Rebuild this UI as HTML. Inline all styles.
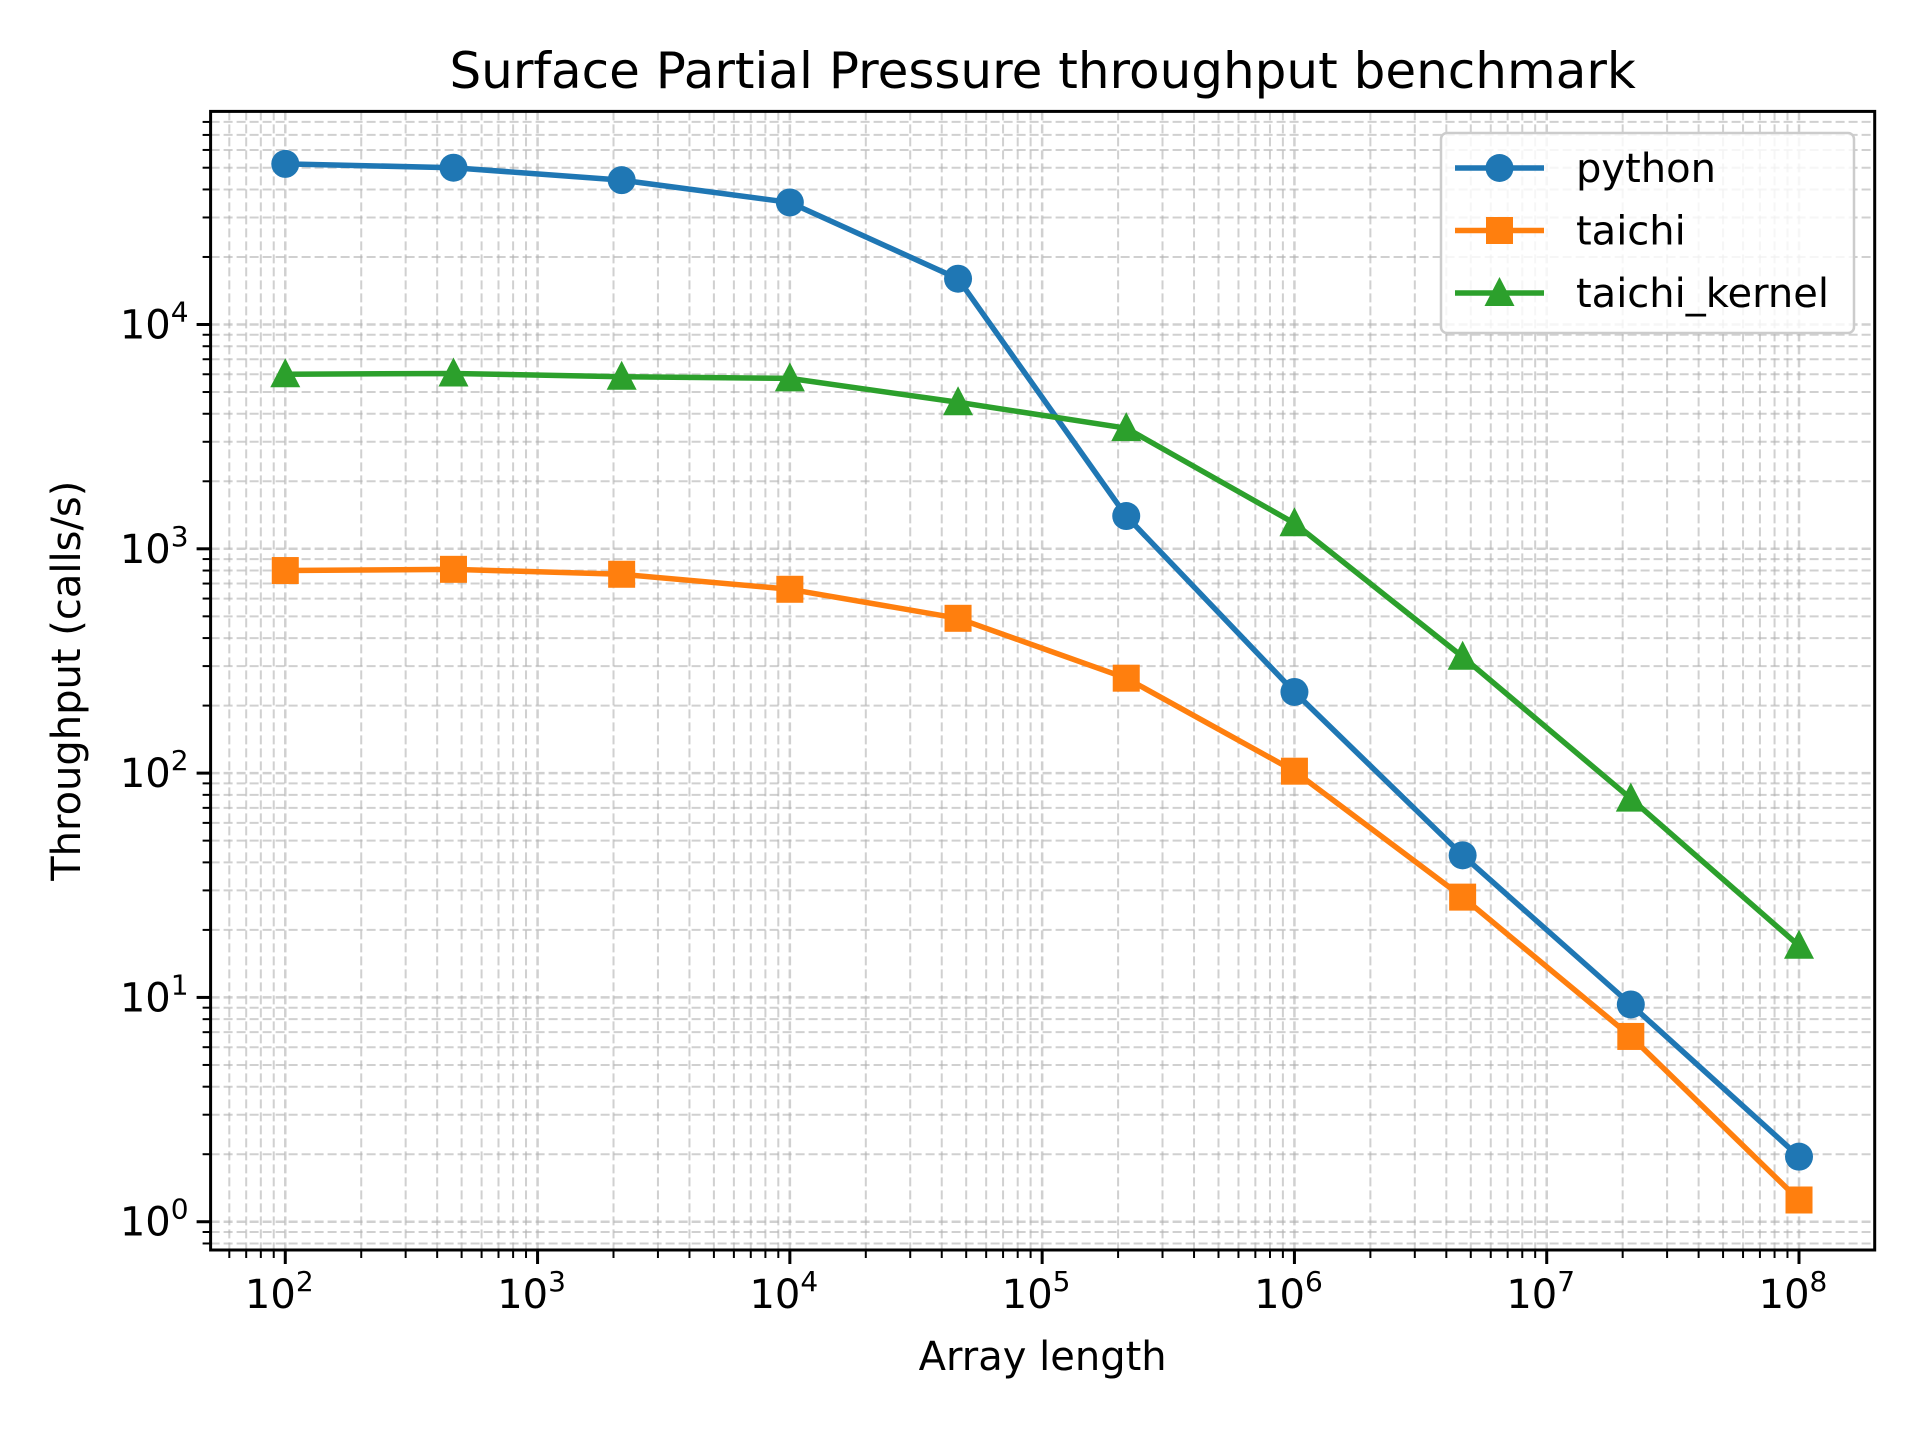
<!DOCTYPE html>
<html><head><meta charset="utf-8"><style>
body{margin:0;background:#fff}
svg text{font-family:"DejaVu Sans","Liberation Sans",sans-serif;fill:#000}
</style></head><body>
<svg id="chart" width="1920" height="1440" xmlns="http://www.w3.org/2000/svg">
<rect width="1920" height="1440" fill="#fff"/>
<g id="grid"></g><g id="series"></g><g id="axes"></g>
</svg>
<script>
const sizesExp = [2, 2.6667, 3.3333, 4, 4.6667, 5.3333, 6, 6.6667, 7.3333, 8];
const pythonVals = [52000, 50000, 44000, 35000, 16000, 1400, 230, 43, 9.3, 1.95];
const taichiVals = [800, 810, 770, 660, 490, 265, 102, 28, 6.7, 1.25];
const kernelVals = [6000, 6050, 5850, 5750, 4500, 3450, 1300, 330, 77, 17];
const xTickExps = [2,3,4,5,6,7,8];
const yTickExps = [0,1,2,3,4];

const L=210.6,R=1874.7,T=111.4,B=1250;
const xMin=1.704,xMax=8.30,yMin=-0.126,yMax=4.95;
const xs=e=>L+(e-xMin)/(xMax-xMin)*(R-L);
const ys=v=>B-(Math.log10(v)-yMin)/(yMax-yMin)*(B-T);
const NS="http://www.w3.org/2000/svg";
function mk(tag,attrs,parent){const el=document.createElementNS(NS,tag);for(const k in attrs)el.setAttribute(k,attrs[k]);parent.appendChild(el);return el;}
const grid=document.getElementById('grid'),axes=document.getElementById('axes'),ser=document.getElementById('series');
for(let d=1;d<=8;d++)for(let m=1;m<10;m++){const e=d+Math.log10(m);if(e<xMin||e>xMax)continue;const x=xs(e);
 const g=mk('line',{x1:x,x2:x,y1:T,y2:B,stroke:'#b0b0b0','stroke-opacity':0.6,'stroke-width':m==1?2.5:2,'stroke-dasharray':'9,4'},grid);
 
 mk('line',{x1:x,x2:x,y1:B,y2:B+(m==1?14:8),stroke:'#000','stroke-width':m==1?3:2},axes);}
for(let d=-1;d<=4;d++)for(let m=1;m<10;m++){const v=Math.pow(10,d)*m;const e=Math.log10(v);if(e<yMin||e>yMax)continue;const y=ys(v);
 const g=mk('line',{x1:L,x2:R,y1:y,y2:y,stroke:'#b0b0b0','stroke-opacity':0.6,'stroke-width':m==1?2.5:2,'stroke-dasharray':'9,4'},grid);
 
 mk('line',{x1:L,x2:L-(m==1?14:8),y1:y,y2:y,stroke:'#000','stroke-width':m==1?3:2},axes);}
mk('rect',{x:L,y:T,width:R-L,height:B-T,fill:'none',stroke:'#000','stroke-width':3},axes);
xTickExps.forEach(e=>{const t=mk('text',{x:xs(e)-6,y:B+58,'text-anchor':'middle','font-size':40},axes);
 t.innerHTML='10<tspan dy="-17" font-size="28">'+e+'</tspan>';
 });
yTickExps.forEach(e=>{const t=mk('text',{x:L-22,y:ys(Math.pow(10,e))+14,'text-anchor':'end','font-size':40},axes);
 t.innerHTML='10<tspan dy="-17" font-size="28">'+e+'</tspan>';
 });
let t=mk('text',{x:(L+R)/2,y:1370,'text-anchor':'middle','font-size':40},axes);t.textContent='Array length';

t=mk('text',{x:0,y:0,'text-anchor':'middle','font-size':40,transform:`translate(80,${(T+B)/2}) rotate(-90)`},axes);t.textContent='Throughput (calls/s)';

t=mk('text',{x:(L+R)/2,y:88,'text-anchor':'middle','font-size':50},axes);t.textContent='Surface Partial Pressure throughput benchmark';

function marker(kind,x,y,c,p){const s=14;let el;
 if(kind=='o')el=mk('circle',{cx:x,cy:y,r:s,fill:c},p);
 else if(kind=='s')el=mk('rect',{x:x-s+0.5,y:y-s+0.5,width:2*s-1,height:2*s-1,fill:c},p);
 else el=mk('polygon',{points:`${x},${y-s-2} ${x-s-1},${y+s-1} ${x+s+1},${y+s-1}`,fill:c},p);return el;}
const series=[['python',pythonVals,'#1f77b4','o'],['taichi',taichiVals,'#ff7f0e','s'],['taichi_kernel',kernelVals,'#2ca02c','^']];
series.forEach(([n,vals,c,k])=>{const g=mk('g',{},ser);
 mk('polyline',{points:vals.map((v,i)=>xs(sizesExp[i])+','+ys(v)).join(' '),fill:'none',stroke:c,'stroke-width':5.5,'stroke-linejoin':'round'},g);
 vals.forEach((v,i)=>{const m=marker(k,xs(sizesExp[i]),ys(v),c,g);});});
const lg=mk('g',{},axes);
mk('rect',{x:1441,y:133,width:413,height:200,rx:6,fill:'#fff','fill-opacity':0.8,stroke:'#ccc','stroke-width':2.5},lg);
series.forEach(([n,vals,c,k],i)=>{const y=168+i*62.5;const e=mk('g',{},lg);
 mk('line',{x1:1455,x2:1544,y1:y,y2:y,stroke:c,'stroke-width':5.5},e);marker(k,1499.5,y,c,e);
 const tx=mk('text',{x:1576,y:y+14,'font-size':40},e);tx.textContent=n;});
</script>
</body></html>
